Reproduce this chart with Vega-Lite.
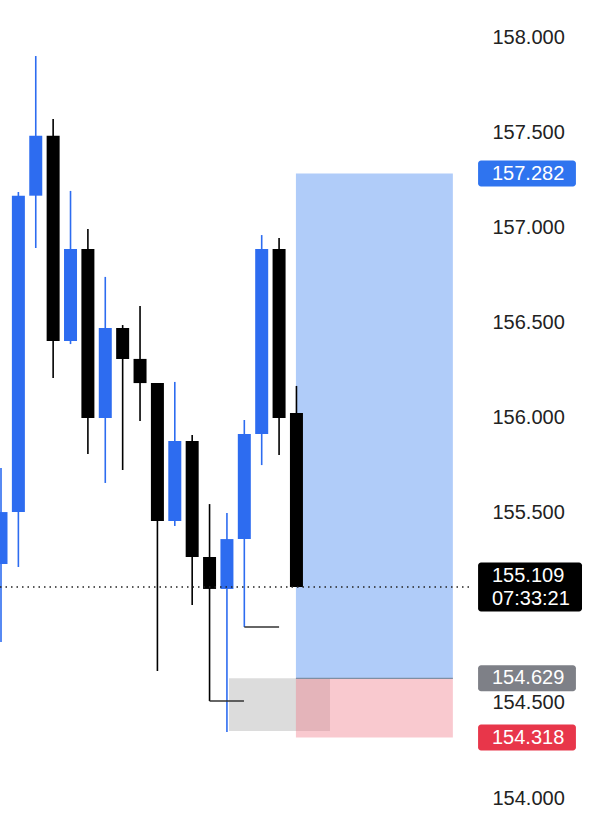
{
  "$schema": "https://vega.github.io/schema/vega-lite/v6.json",
  "width": 590,
  "height": 822,
  "padding": 0,
  "autosize": {"type": "none"},
  "background": "#ffffff",
  "config": {"view": {"stroke": null}},
  "resolve": {"scale": {"color": "independent"}},
  "datasets": {
    "candles": [
      {"i": 0, "o": 155.230, "h": 155.735, "l": 154.820, "c": 155.503, "dir": "up"},
      {"i": 1, "o": 155.503, "h": 157.185, "l": 155.214, "c": 157.166, "dir": "up"},
      {"i": 2, "o": 157.166, "h": 157.900, "l": 156.891, "c": 157.481, "dir": "up"},
      {"i": 3, "o": 157.481, "h": 157.569, "l": 156.208, "c": 156.402, "dir": "down"},
      {"i": 4, "o": 156.402, "h": 157.191, "l": 156.386, "c": 156.886, "dir": "up"},
      {"i": 5, "o": 156.886, "h": 156.991, "l": 155.808, "c": 155.997, "dir": "down"},
      {"i": 6, "o": 155.997, "h": 156.739, "l": 155.656, "c": 156.470, "dir": "up"},
      {"i": 7, "o": 156.470, "h": 156.486, "l": 155.724, "c": 156.308, "dir": "down"},
      {"i": 8, "o": 156.308, "h": 156.586, "l": 155.982, "c": 156.181, "dir": "down"},
      {"i": 9, "o": 156.181, "h": 156.181, "l": 154.668, "c": 155.456, "dir": "down"},
      {"i": 10, "o": 155.456, "h": 156.187, "l": 155.430, "c": 155.877, "dir": "up"},
      {"i": 11, "o": 155.877, "h": 155.908, "l": 155.014, "c": 155.267, "dir": "down"},
      {"i": 12, "o": 155.267, "h": 155.545, "l": 154.510, "c": 155.099, "dir": "down"},
      {"i": 13, "o": 155.099, "h": 155.498, "l": 154.347, "c": 155.361, "dir": "up"},
      {"i": 14, "o": 155.361, "h": 155.987, "l": 154.899, "c": 155.913, "dir": "up"},
      {"i": 15, "o": 155.913, "h": 156.959, "l": 155.750, "c": 156.886, "dir": "up"},
      {"i": 16, "o": 156.886, "h": 156.943, "l": 155.803, "c": 155.997, "dir": "down"},
      {"i": 17, "o": 156.024, "h": 156.166, "l": 155.109, "c": 155.109, "dir": "down"}
    ],
    "zones": [
      {"kind": "entry", "from": 13.12, "to": 18.93, "top": 154.629, "bottom": 154.352},
      {"kind": "stop", "from": 16.97, "to": 26.0, "top": 154.629, "bottom": 154.318},
      {"kind": "target", "from": 16.97, "to": 26.0, "top": 157.282, "bottom": 154.629}
    ],
    "marks": [
      {"from": 12, "to": 13.98, "p": 154.510},
      {"from": 14, "to": 16.0, "p": 154.899}
    ],
    "badges": [
      {"kind": "target", "p": 157.282, "label": "157.282"},
      {"kind": "entry", "p": 154.629, "label": "154.629"},
      {"kind": "stop", "p": 154.318, "label": "154.318"}
    ],
    "last": [
      {"kind": "last", "p": 155.109, "label": "155.109\n07:33:21"}
    ]
  },
  "layer": [
    {
      "data": {"name": "zones"},
      "mark": {"type": "rect", "opacity": 0.4},
      "encoding": {
        "x": {"field": "from", "type": "quantitative", "scale": {"domain": [-0.0575, 33.89], "nice": false, "zero": false, "padding": 0}, "axis": null},
        "x2": {"field": "to"},
        "y": {"field": "top", "type": "quantitative", "scale": {"domain": [153.874, 158.1945], "nice": false, "zero": false, "padding": 0},
          "axis": {"orient": "right", "offset": -100, "domain": false, "ticks": false, "grid": false, "labelPadding": 2, "labelFontSize": 20, "labelFont": "Liberation Sans", "labelColor": "#222222", "format": ".3f", "values": [154, 154.5, 155.5, 156, 156.5, 157, 157.5, 158], "title": null, "labelOverlap": false, "labelFlush": false, "labelBaseline": "middle"}},
        "y2": {"field": "bottom"},
        "color": {"field": "kind", "type": "nominal", "legend": null, "scale": {"domain": ["entry", "stop", "target"], "range": ["#a8a8a8", "#f07887", "#3a7ff0"]}}
      }
    },
    {
      "data": {"name": "zones"},
      "transform": [{"filter": "datum.kind == 'target'"}],
      "mark": {"type": "rule", "color": "#7f8ea3", "strokeWidth": 1.2},
      "encoding": {
        "x": {"field": "from", "type": "quantitative"},
        "x2": {"field": "to"},
        "y": {"field": "bottom", "type": "quantitative"}
      }
    },
    {
      "data": {"name": "candles"},
      "mark": {"type": "rule", "strokeWidth": 1.6},
      "encoding": {
        "x": {"field": "i", "type": "quantitative"},
        "y": {"field": "l", "type": "quantitative"},
        "y2": {"field": "h"},
        "color": {"field": "dir", "type": "nominal", "legend": null, "scale": {"domain": ["up", "down"], "range": ["#2d6cf0", "#000000"]}}
      }
    },
    {
      "data": {"name": "candles"},
      "mark": {"type": "bar", "width": 13},
      "encoding": {
        "x": {"field": "i", "type": "quantitative"},
        "y": {"field": "o", "type": "quantitative"},
        "y2": {"field": "c"},
        "color": {"field": "dir", "type": "nominal", "legend": null, "scale": {"domain": ["up", "down"], "range": ["#2d6cf0", "#000000"]}}
      }
    },
    {
      "data": {"name": "marks"},
      "mark": {"type": "rule", "color": "#333333", "strokeWidth": 1.6},
      "encoding": {
        "x": {"field": "from", "type": "quantitative"},
        "x2": {"field": "to"},
        "y": {"field": "p", "type": "quantitative"}
      }
    },
    {
      "data": {"name": "last"},
      "mark": {"type": "rule", "color": "#222222", "strokeWidth": 1.5, "strokeDash": [1.5, 4]},
      "encoding": {
        "x": {"datum": -0.0575, "type": "quantitative"},
        "x2": {"datum": 27.16},
        "y": {"field": "p", "type": "quantitative"}
      }
    },
    {
      "data": {"name": "badges"},
      "mark": {"type": "bar", "height": 26, "cornerRadius": 3},
      "encoding": {
        "x": {"datum": 27.45, "type": "quantitative"},
        "x2": {"datum": 33.08},
        "y": {"field": "p", "type": "quantitative"},
        "color": {"field": "kind", "type": "nominal", "legend": null, "scale": {"domain": ["target", "entry", "stop"], "range": ["#2f74ef", "#7e8087", "#e8364a"]}}
      }
    },
    {
      "data": {"name": "last"},
      "mark": {"type": "bar", "height": 49, "cornerRadius": 3, "color": "#000000"},
      "encoding": {
        "x": {"datum": 27.45, "type": "quantitative"},
        "x2": {"datum": 33.43},
        "y": {"field": "p", "type": "quantitative"}
      }
    },
    {
      "data": {"name": "badges"},
      "mark": {"type": "text", "align": "left", "baseline": "middle", "font": "Liberation Sans", "fontSize": 20, "color": "#ffffff"},
      "encoding": {
        "x": {"datum": 28.25, "type": "quantitative"},
        "y": {"field": "p", "type": "quantitative"},
        "text": {"field": "label"}
      }
    },
    {
      "data": {"name": "last"},
      "mark": {"type": "text", "align": "left", "baseline": "middle", "font": "Liberation Sans", "fontSize": 20, "color": "#ffffff", "lineBreak": "\n", "lineHeight": 23, "dy": -11},
      "encoding": {
        "x": {"datum": 28.25, "type": "quantitative"},
        "y": {"field": "p", "type": "quantitative"},
        "text": {"field": "label"}
      }
    }
  ]
}
